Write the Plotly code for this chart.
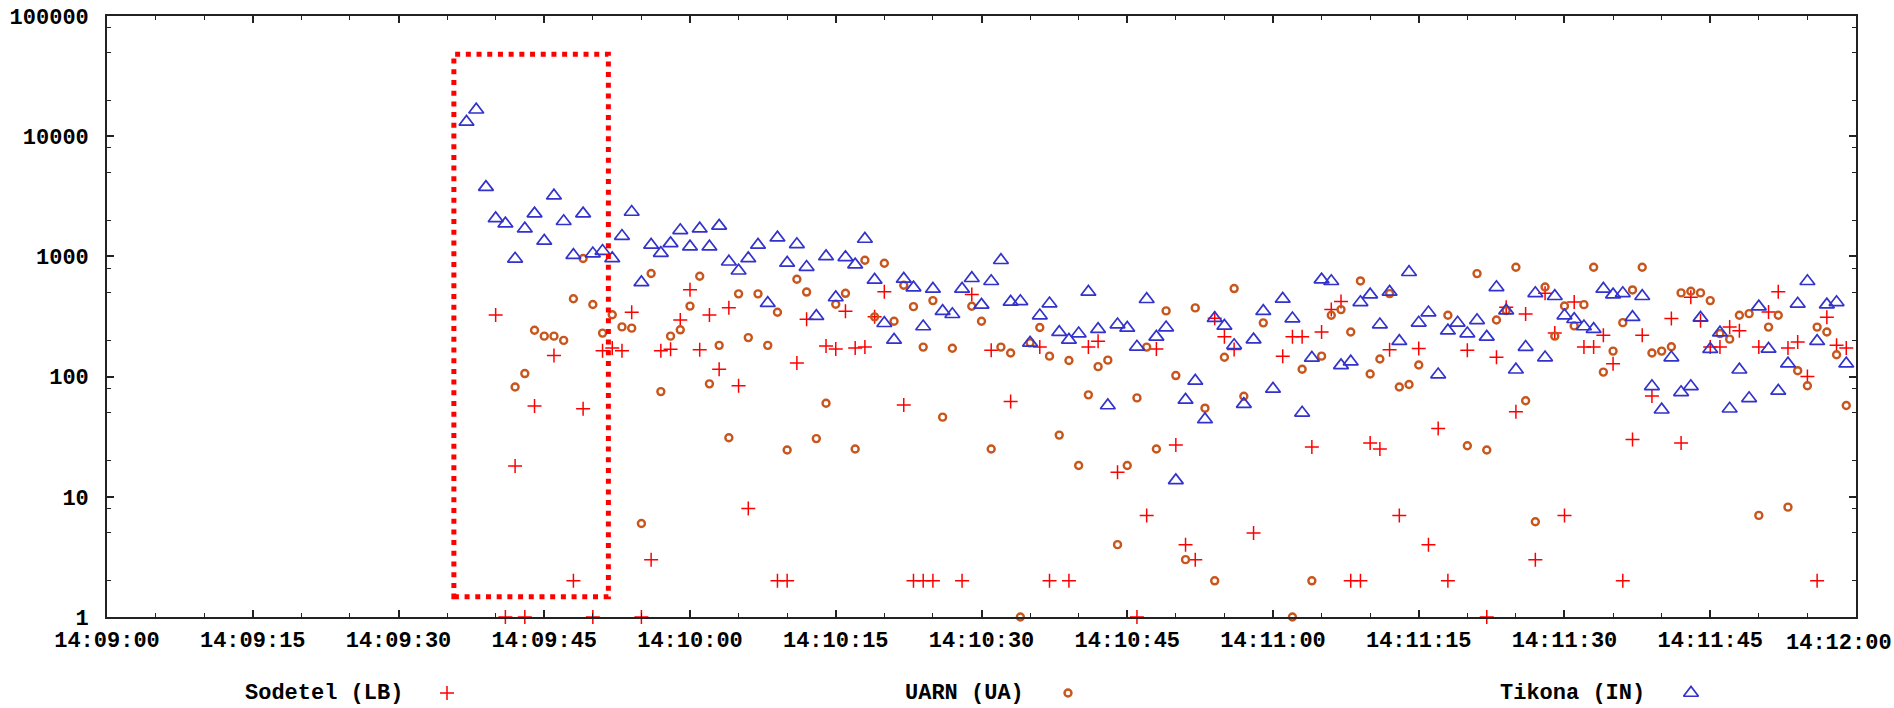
import plotly.graph_objects as go
from datetime import datetime, timedelta

N = None
# one sample per second, 14:09:37 .. 14:11:59
seconds = list(range(37, 180))
base = datetime(2024, 1, 1, 14, 9, 0)
times = [base + timedelta(seconds=s) for s in seconds]

sodetel = [
    N, N, N, 325, 1, 18, 1, 57, N, 150,
    N, 2, 54, 1, 164, 173, 164, 343, 1, 3,
    164, 169, 296, 527, 167, 325, 115, 374, 84, 8,
    N, N, 2, 2, 130, 300, N, 180, 170, 350,
    173, 176, 314, 509, N, 58, 2, 2, 2, N,
    N, 2, 481, N, 166, N, 62, N, N, 176,
    2, N, 2, N, 176, 197, N, 16, N, 1,
    7, 170, N, 27, 4, 3, N, 306, 215, 168,
    N, 5, N, N, 148, 215, 215, 26, 235, 361,
    421, 2, 2, 28, 25, 167, 7, N, 171, 4,
    37, 2, N, 166, N, 1, 145, 378, 51, 332,
    3, 493, 231, 7, 418, 176, 176, 221, 128, 2,
    30, 221, 69, N, 304, 28, 457, 292, 176, 176,
    258, 241, N, 176, 345, 509, 173, 194, 100, 2,
    312, 182, 173,
]

uarn = [
    N, N, N, N, N, 82, 106, 243, 217, 217,
    200, 444, 961, 398, 230, 327, 259, 253, 6, 720,
    75, 217, 245, 386, 683, 87, 182, 31, 488, 211,
    488, 182, 343, 24.5, 646, 505, 30.5, 60, 400, 493,
    25, 928, 314, 877, 289, 575, 382, 176, 429, 46,
    172, N, 385, 289, 25, 176, 157, 1, 191, 256,
    148, 32.6, 136, 18.2, 70.5, 121, 137, 4, 18.2, 66.5,
    176, 25, 352, 102, 3, 373, 54.6, 2, 145, 540,
    68.7, N, 280, N, N, 1, 115, 2, 148, 324,
    361, 235, 625, 105, 140, 490, 82, 86, 125, N,
    N, 324, N, 26.6, 719, 24.5, 296, 354, 812, 63,
    6.2, 557, 217, 387, 264, 397, 812, 109, 163, 281,
    526, 812, 157, 163, 177, 497, 513, 497, 429, 228,
    205, 324, 334, 7, 258, 324, 8.2, 112, 84, 258,
    235, 152, 57.5,
]

tikona = [
    13150, 16600, 3770, 2070, 1870, 955, 1700, 2270, 1345, 3200,
    1960, 1024, 2270, 1056, 1107, 962, 1477, 2340, 607, 1245,
    1065, 1283, 1648, 1205, 1700, 1205, 1795, 903, 760, 962,
    1245, 408, 1432, 883, 1260, 815, 318, 1000, 455, 983,
    854, 1396, 637, 278, 202, 649, 550, 261, 536, 350,
    330, 536, 658, 395, 621, 929, 418, 423, 191, 322,
    405, 234, 202, 228, 506, 248, 57.5, 271, 254, 177,
    440, 214, 256, 13.7, 64, 92, 44, 306, 264, 182,
    59, 203, 350, 79, 443, 304, 50, 143, 641, 621,
    124, 133, 415, 481, 271, 506, 197, 738, 280, 341,
    104, 241, 280, 228, 294, 214, 553, 354, 114, 176,
    493, 144, 466, 322, 300, 261, 248, 536, 481, 493,
    312, 466, 83, 53, 144, 74, 83, 308, 169, 232,
    54, 114, 66, 382, 170, 76, 128, 403, 621, 197,
    397, 415, 128,
]

series_names = ["Sodetel (LB)", "UARN (UA)", "Tikona (IN)"]
y_tickvals = [1, 10, 100, 1000, 10000, 100000]
y_ticktext = ["1", "10", "100", "1000", "10000", "100000"]
y_minor = [m * 10 ** k for k in range(5) for m in (2, 5, 8)]
last_x_label = "14:12:00"

# highlighted window (dotted box)
box_t0, box_t1 = "2024-01-01 14:09:35.7", "2024-01-01 14:09:51.6"
box_v0, box_v1 = 1.475, 48150

RED = "#ff0000"
ORANGE = "#c8561c"
BLUE = "#3232cc"
AX = "#222222"
FONT = dict(family="Liberation Mono", size=22, color="#000000", weight="bold")

styles = [
    dict(symbol="cross-thin-open", size=10, color=RED, line=dict(color=RED, width=1.5)),
    dict(symbol="circle-open", size=7, color=ORANGE, line=dict(color=ORANGE, width=2.4)),
    dict(symbol="triangle-up-open", size=13, color=BLUE, line=dict(color=BLUE, width=1.7)),
]

fig = go.Figure()
for name, vals, st in zip(series_names, [sodetel, uarn, tikona], styles):
    fig.add_trace(go.Scatter(x=times, y=vals, mode="markers", name=name,
                             marker=st, cliponaxis=False, showlegend=False))

# custom legend (text, then sample symbol) below the plot, on a hidden pixel axis pair
legend_text_right = [404, 1025, 1646]
legend_symbol_x = [447, 1068, 1691]
legend_y = 693
for name, tx, sx, st in zip(series_names, legend_text_right, legend_symbol_x, styles):
    fig.add_trace(go.Scatter(x=[sx], y=[legend_y], mode="markers", marker=st,
                             xaxis="x2", yaxis="y2", showlegend=False, cliponaxis=False,
                             hoverinfo="skip"))
    fig.add_annotation(x=tx, y=legend_y, xref="x2", yref="y2", text=name,
                       showarrow=False, xanchor="right", yanchor="middle", font=FONT,
                       borderpad=0)

# last time label, kept inside the page at the right edge
fig.add_annotation(x=(1893 - 107) / 1749, y=(708 - 643) / 692, xref="paper", yref="paper",
                   text=last_x_label, showarrow=False, xanchor="right", yanchor="middle",
                   font=FONT, borderpad=0)

fig.add_shape(type="rect", xref="x", yref="y", x0=box_t0, x1=box_t1, y0=box_v0, y1=box_v1,
              line=dict(color=RED, width=5, dash="5px,5.7px"), fillcolor="rgba(0,0,0,0)")

ydom0 = 91 / 692
fig.update_layout(
    width=1894, height=708,
    margin=dict(l=107, r=38, t=16, b=0, pad=0),
    paper_bgcolor="white", plot_bgcolor="white",
    font=FONT,
    xaxis=dict(
        type="date", domain=[0, 1], anchor="y",
        range=["2024-01-01 14:09:00", "2024-01-01 14:12:00.001"],
        tick0="2024-01-01 14:09:00", dtick=15000, tickformat="%H:%M:%S",
        showline=True, linecolor=AX, linewidth=1.6, mirror="ticks",
        ticks="inside", ticklen=7, tickwidth=1.5, tickcolor=AX,
        minor=dict(dtick=5000, ticks="inside", ticklen=4, tickwidth=1.3, tickcolor=AX, showgrid=False),
        showgrid=False, zeroline=False, tickfont=FONT, ticklabelstandoff=2,
        automargin=False,
    ),
    yaxis=dict(
        type="log", range=[0, 5], domain=[ydom0, 1], anchor="x",
        tickmode="array", tickvals=y_tickvals, ticktext=y_ticktext,
        showline=True, linecolor=AX, linewidth=1.6, mirror="ticks",
        ticks="inside", ticklen=7, tickwidth=1.5, tickcolor=AX,
        minor=dict(tickmode="array", tickvals=y_minor, ticks="inside", ticklen=4,
                   tickwidth=1.3, tickcolor=AX, showgrid=False),
        showgrid=False, zeroline=False, tickfont=FONT, ticklabelstandoff=12,
        ticklabeloverflow="allow", automargin=False,
    ),
    xaxis2=dict(domain=[0, 1], anchor="y2", range=[107, 1856], visible=False, fixedrange=True),
    yaxis2=dict(domain=[0, ydom0], anchor="x2", range=[708, 617], visible=False, fixedrange=True),
    showlegend=False,
)

fig.write_html("out.html")
